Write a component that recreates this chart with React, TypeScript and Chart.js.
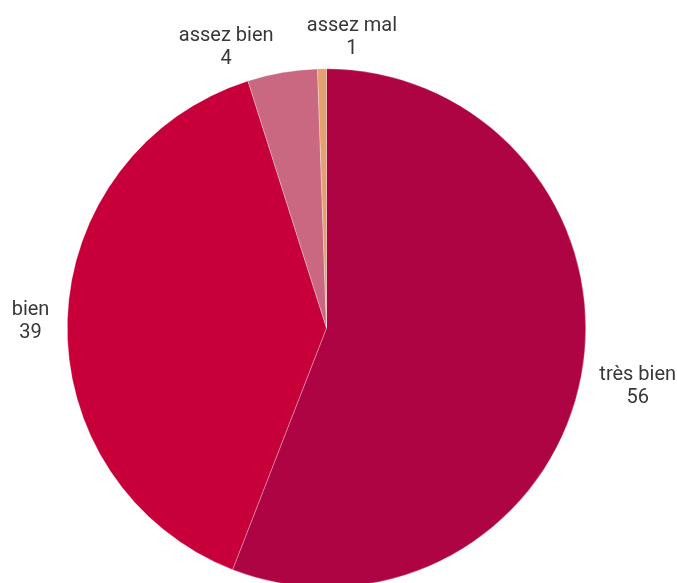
import React, { useEffect, useRef } from "react";
import { Chart, registerables } from "chart.js";

Chart.register(...registerables);

const categories = ["très bien", "bien", "assez bien", "assez mal"];
const values = [55.9, 39.2, 4.35, 0.55];
const colors = ["#AF0444", "#C8003A", "#C96880", "#E3A070"];
// label nudges (px) to avoid collisions, like the original layout
const nudges = [
  [1, 3],
  [0, 3],
  [-45, 16],
  [31, 10.5],
];

const labelPlugin = {
  id: "outerLabels",
  afterDatasetsDraw(chart: any) {
    const ctx = chart.ctx;
    const meta = chart.getDatasetMeta(0);
    ctx.save();
    ctx.font = "20px Roboto";
    ctx.fillStyle = "#383838";
    ctx.textAlign = "center";
    ctx.textBaseline = "middle";
    const lineH = 23;
    meta.data.forEach((arc: any, i: number) => {
      const { x, y, startAngle, endAngle, outerRadius } = arc.getProps(
        ["x", "y", "startAngle", "endAngle", "outerRadius"],
        true
      );
      const mid = (startAngle + endAngle) / 2;
      const dx = Math.cos(mid);
      const dy = Math.sin(mid);
      const ax = x + (outerRadius + 18) * dx;
      const ay = y + (outerRadius + 18) * dy;
      const lines = [categories[i], String(Math.round(values[i]))];
      const w = Math.max(...lines.map((l) => ctx.measureText(l).width));
      const h = 24 * lines.length;
      const cx = ax + (dx * w) / 2 + nudges[i][0];
      const cy = ay + (dy * h) / 2 + nudges[i][1];
      const total = lineH * lines.length;
      lines.forEach((l, k) => {
        ctx.fillText(l, cx, cy - total / 2 + lineH / 2 + k * lineH);
      });
    });
    ctx.restore();
  },
};

export default function App() {
  const ref = useRef<HTMLCanvasElement>(null);
  useEffect(() => {
    if (!ref.current) return;
    const chart = new Chart(ref.current, {
      type: "pie",
      data: {
        labels: categories,
        datasets: [
          {
            data: values,
            backgroundColor: colors,
            borderWidth: 0.5,
            borderColor: "rgba(255,255,255,0.6)",
          },
        ],
      },
      options: {
        animation: false,
        responsive: false,
        maintainAspectRatio: false,
        layout: { padding: { top: 68.5, bottom: 12.5, left: 67, right: 91 } },
        plugins: {
          legend: { display: false },
          tooltip: { enabled: false },
        },
      },
      plugins: [labelPlugin],
    });
    return () => chart.destroy();
  }, []);
  return (
    <div
      style={{
        position: "fixed",
        left: 0,
        top: 0,
        width: 677,
        height: 583,
        overflow: "hidden",
        background: "#fff",
      }}
    >
      <canvas ref={ref} width={677} height={600} style={{ display: "block" }} />
    </div>
  );
}
